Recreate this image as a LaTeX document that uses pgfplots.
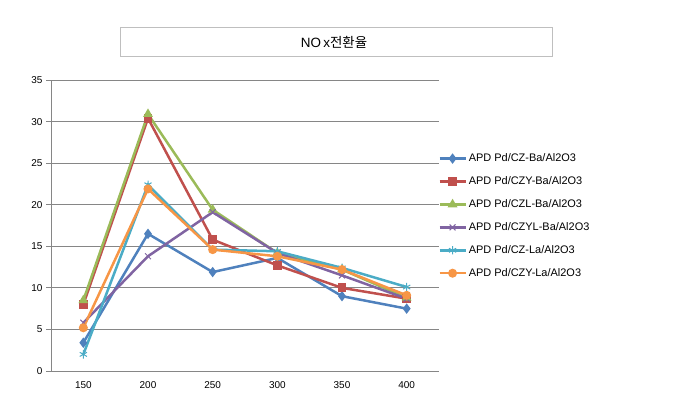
\documentclass[border=0pt]{standalone}
\usepackage{pgfplots}
\pgfplotsset{compat=1.18}
\usepackage{fontspec}
\setmainfont{Liberation Sans}
\newfontfamily\kr{Noto Sans CJK KR}
\definecolor{s1}{HTML}{4F81BD}
\definecolor{s2}{HTML}{C0504D}
\definecolor{s3}{HTML}{9BBB59}
\definecolor{s4}{HTML}{8064A2}
\definecolor{s5}{HTML}{4BACC6}
\definecolor{s6}{HTML}{F79646}
\definecolor{gridc}{HTML}{868686}
\begin{document}
\begin{tikzpicture}[x=1bp,y=1bp]
\path[use as bounding box] (0,0) rectangle (681,412);
% title box
\draw[color=black!25, line width=0.8bp] (120,356) rectangle (552,385);
\node[font=\fontsize{13.5}{16}\selectfont] at (334,369.5) {NO\,x{\kr 전환율}};
\begin{axis}[
    at={(51bp,41bp)}, anchor=south west,
    scale only axis,
    width=388bp, height=291bp,
    xmin=-0.5, xmax=5.5,
    ymin=0, ymax=35,
    xtick={0,1,2,3,4,5},
    xticklabels={150,200,250,300,350,400},
    minor xtick={-0.5,0.5,1.5,2.5,3.5,4.5,5.5},
    ytick={0,5,...,35},
    axis x line*=bottom, axis y line*=left,
    axis line style={gridc, line width=0.8bp, -},
    ymajorgrids, grid style={gridc, line width=0.8bp},
    x tick style={draw=none},
    minor x tick style={gridc, line width=0.8bp},
    minor tick length=5bp,
    y tick style={gridc, line width=0.8bp},
    major tick length=5bp,
    tick align=outside,
    tick label style={font=\fontsize{10}{12}\selectfont},
    /pgf/number format/assume math mode=true,
    xticklabel style={yshift=-2bp},
    legend style={at={(0.99,0.533)}, anchor=west, draw=none, fill=none,
        font=\fontsize{11}{13}\selectfont, row sep=9.5bp,
        /tikz/every even column/.append style={column sep=2bp}},
    legend cell align=left,
    legend image code/.code={%
        \draw[mark repeat=2,mark phase=2]
        plot coordinates {(0bp,0bp) (13bp,0bp) (26bp,0bp)};},
    every axis plot/.append style={line width=2.5bp, mark size=3.2bp},
]
\addplot[s1, mark=diamond*, mark options={s1}] coordinates {
    (0,3.4) (1,16.5) (2,11.9) (3,13.6) (4,9.0) (5,7.5)};
\addlegendentry{APD Pd/CZ-Ba/Al2O3}
\addplot[s2, mark=square*, mark options={s2}] coordinates {
    (0,8.0) (1,30.4) (2,15.8) (3,12.7) (4,10.0) (5,8.7)};
\addlegendentry{APD Pd/CZY-Ba/Al2O3}
\addplot[s3, mark=triangle*, mark options={s3}] coordinates {
    (0,8.5) (1,30.9) (2,19.4) (3,14.2) (4,12.2) (5,8.8)};
\addlegendentry{APD Pd/CZL-Ba/Al2O3}
\addplot[s4, mark=x, mark options={s4, line width=1bp, scale=1.3}] coordinates {
    (0,5.8) (1,13.8) (2,19.1) (3,14.2) (4,11.5) (5,8.7)};
\addlegendentry{APD Pd/CZYL-Ba/Al2O3}
\addplot[s5, mark=asterisk, mark options={s5, line width=1bp, scale=1.3}] coordinates {
    (0,2.0) (1,22.4) (2,14.6) (3,14.4) (4,12.4) (5,10.1)};
\addlegendentry{APD Pd/CZ-La/Al2O3}
\addplot[s6, mark=*, mark options={s6}] coordinates {
    (0,5.2) (1,21.9) (2,14.6) (3,13.8) (4,12.2) (5,9.1)};
\addlegendentry{APD Pd/CZY-La/Al2O3}
\end{axis}
\end{tikzpicture}
\end{document}
